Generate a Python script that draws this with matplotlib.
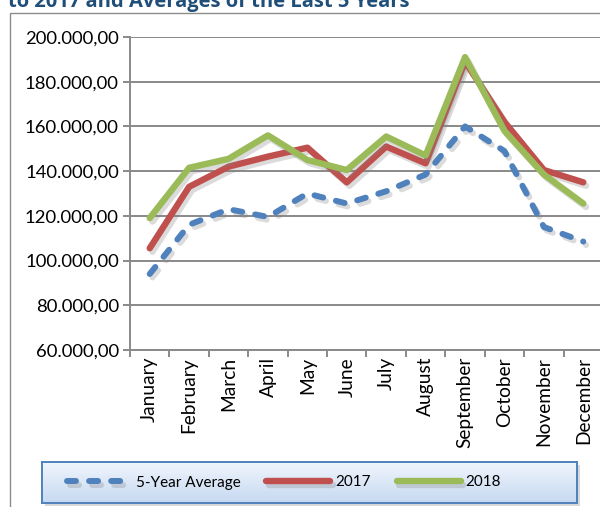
import numpy as np
import matplotlib.pyplot as plt
import matplotlib.patheffects as pe
from matplotlib.ticker import FuncFormatter, FixedLocator
from matplotlib.patches import Rectangle
from matplotlib.colors import LinearSegmentedColormap

plt.rcParams['font.family'] = ['Lato', 'DejaVu Sans']

# Chart data
months = ['January', 'February', 'March', 'April', 'May', 'June', 'July',
          'August', 'September', 'October', 'November', 'December']
avg_5y = [94000, 116000, 123000, 119500, 130000, 125500, 131000, 138500,
          160000, 149000, 115000, 108500]
y2017 = [105500, 133000, 142000, 146500, 150500, 135000, 151000, 143500,
         189000, 162000, 140500, 135000]
y2018 = [119000, 141500, 145500, 156000, 145000, 140500, 155500, 147000,
         191000, 158000, 138500, 125500]

W, H = 600, 507
fig = plt.figure(figsize=(W / 100, H / 100), dpi=100)

# outer chart border (runs off the right/bottom) and the clipped title
fig.add_artist(Rectangle((10 / W, -0.2), 1.2, 1.2 - 13 / H, transform=fig.transFigure,
                         fill=False, edgecolor='#8c8c8c', linewidth=1.0, zorder=-2))
fig.text(8 / W, 1 - 7 / H, 'to 2017 and Averages of the Last 5 Years',
         fontsize=14.5, fontweight='bold', color='#1f4e79', ha='left', va='baseline',
         family=['Open Sans', 'DejaVu Sans'])

ax = fig.add_axes([130 / W, 1 - 350 / H, 473 / W, 313 / H])
x = np.arange(len(months))
shadow = [pe.SimpleLineShadow(offset=(2, -2.5), shadow_color='#808080', alpha=0.28),
          pe.Normal()]

ax.plot(x, avg_5y, color='#4f81bd', lw=4.3, linestyle=(0, (1.5, 2.2)),
        dash_capstyle='round', solid_joinstyle='round', label='5-Year Average',
        path_effects=shadow, zorder=3)
ax.plot(x, y2017, color='#c0504d', lw=4.6, solid_capstyle='round',
        solid_joinstyle='round', label='2017', path_effects=shadow, zorder=4)
ax.plot(x, y2018, color='#9bbb59', lw=4.6, solid_capstyle='round',
        solid_joinstyle='round', label='2018', path_effects=shadow, zorder=5)

ax.set_xlim(-0.5, 11.5)
ax.set_ylim(60000, 200000)
ax.set_yticks(np.arange(60000, 200001, 20000))
ax.yaxis.set_major_formatter(FuncFormatter(
    lambda v, p: '{:,.2f}'.format(v).replace(',', 'X').replace('.', ',').replace('X', '.')))
ax.grid(axis='y', color='#898989', linewidth=1.4)
ax.set_axisbelow(True)

ax.set_xticks(x)
ax.set_xticklabels(months, rotation=90, fontsize=13.8)
ax.xaxis.set_minor_locator(FixedLocator(np.arange(-0.5, 12, 1)))
ax.tick_params(axis='x', which='major', length=0, pad=5)
ax.tick_params(axis='x', which='minor', length=5, color='#898989', width=1.4)
ax.tick_params(axis='y', length=5, color='#898989', width=1.4, labelsize=13.3, pad=3)

for s in ['top', 'right']:
    ax.spines[s].set_visible(False)
for s in ['left', 'bottom']:
    ax.spines[s].set_color('#898989')
    ax.spines[s].set_linewidth(1.4)

# legend box: soft shadow + light blue gradient
lx, ly, lw_, lh = 42 / W, 1 - 503 / H, 535 / W, 41 / H
fig.add_artist(Rectangle((lx + 3 / W, ly - 3 / H), lw_, lh, transform=fig.transFigure,
                         facecolor='#7f7f7f', alpha=0.3, edgecolor='none', zorder=-1))
lax = fig.add_axes([lx, ly, lw_, lh])
lax.set_zorder(2)
grad = np.linspace(0, 1, 50).reshape(-1, 1)
lax.imshow(grad, aspect='auto', extent=[0, 1, 0, 1],
           cmap=LinearSegmentedColormap.from_list('g', ['#c6d9f1', '#f0f5fc']),
           origin='lower')
lax.set_xticks([])
lax.set_yticks([])
for s in lax.spines.values():
    s.set_color('#4f81bd')
    s.set_linewidth(1.4)
handles, labels = ax.get_legend_handles_labels()
lax.legend(handles, labels, loc='center left', bbox_to_anchor=(0.035, 0.5), ncol=3,
           frameon=False, fontsize=11, handlelength=4.2, handletextpad=0.3,
           columnspacing=1.7, borderaxespad=0)

fig.savefig('out.png', dpi=100)
